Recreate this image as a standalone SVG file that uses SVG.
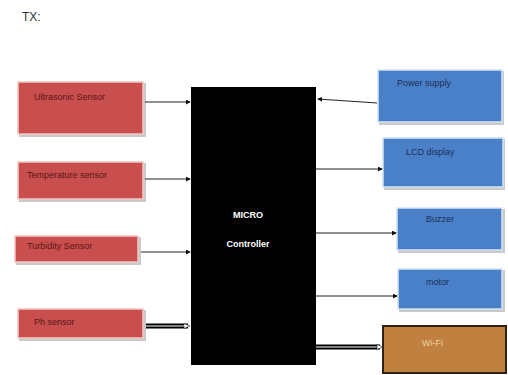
<svg xmlns="http://www.w3.org/2000/svg" width="508" height="375" viewBox="0 0 508 375">
<style>
.red{fill:#c94f4e;stroke:#f3c6c4;stroke-width:1.5}
.blue{fill:#4a80c8;stroke:#d4e3f3;stroke-width:1.5}
.sh{fill:#c9c9c9}
.rt{font-family:"Liberation Sans",Arial,sans-serif;font-size:9px;fill:#5a1616}
.bt{font-family:"Liberation Sans",Arial,sans-serif;font-size:9px;fill:#1b2f5a}
.ln{stroke:#222;stroke-width:1;fill:none}
.thick{stroke:#000;stroke-width:5;fill:none}
.thin{stroke:#fff;stroke-width:1;fill:none}
</style>
<defs>
<marker id="dot" viewBox="0 0 6 6" refX="5" refY="3" markerWidth="5" markerHeight="5" orient="auto" markerUnits="userSpaceOnUse">
<path d="M0,0 L6,3 L0,6 z" fill="#111"/>
</marker>
</defs>
<rect width="508" height="375" fill="#fff"/>
<text x="22" y="21" font-family="Liberation Sans,Arial,sans-serif" font-size="12" fill="#333">TX:</text>

<g id="ultrasonic">
<rect class="sh" x="19" y="83" width="127" height="54"/>
<rect class="red" x="18" y="82" width="125" height="52"/>
<text class="rt" x="34" y="100">Ultrasonic Sensor</text>
</g>
<g id="temperature">
<rect class="sh" x="19" y="163" width="127" height="39"/>
<rect class="red" x="18" y="162" width="125" height="37"/>
<text class="rt" x="27" y="178">Temperature sensor</text>
</g>
<g id="turbidity">
<rect class="sh" x="16" y="237" width="125" height="28"/>
<rect class="red" x="15" y="236" width="123" height="26"/>
<text class="rt" x="27" y="249">Turbidity Sensor</text>
</g>
<g id="ph">
<rect class="sh" x="19" y="310" width="127" height="31"/>
<rect class="red" x="18" y="309" width="125" height="29"/>
<text class="rt" x="34" y="325">Ph sensor</text>
</g>

<g id="controller">
<rect x="191" y="87" width="125" height="278" fill="#000"/>
<text x="248" y="218" text-anchor="middle" font-family="Liberation Sans,Arial,sans-serif" font-size="9" font-weight="bold" fill="#fff">MICRO</text>
<text x="248" y="247" text-anchor="middle" font-family="Liberation Sans,Arial,sans-serif" font-size="9" font-weight="bold" fill="#fff">Controller</text>
</g>

<g id="power">
<rect class="sh" x="379" y="71" width="125" height="54"/>
<rect class="blue" x="378" y="70" width="124" height="52"/>
<text class="bt" x="397" y="86">Power supply</text>
</g>
<g id="lcd">
<rect class="sh" x="384" y="139" width="121" height="51"/>
<rect class="blue" x="383" y="138" width="120" height="49"/>
<text class="bt" x="406" y="155">LCD display</text>
</g>
<g id="buzzer">
<rect class="sh" x="398" y="209" width="107" height="44"/>
<rect class="blue" x="397" y="208" width="105" height="42"/>
<text class="bt" x="426" y="222">Buzzer</text>
</g>
<g id="motor">
<rect class="sh" x="399" y="270" width="106" height="42"/>
<rect class="blue" x="398" y="269" width="104" height="40"/>
<text class="bt" x="426" y="285">motor</text>
</g>
<g id="wifi">
<rect x="383" y="326" width="123" height="47" fill="#bf8040" stroke="#2e2214" stroke-width="2"/>
<text x="422" y="346" font-family="Liberation Sans,Arial,sans-serif" font-size="9" fill="#f2d2a4">Wi-Fi</text>
</g>

<g id="connectors">
<line class="ln" x1="145" y1="102" x2="190" y2="102" marker-end="url(#dot)"/>
<line class="ln" x1="145" y1="179" x2="190" y2="179" marker-end="url(#dot)"/>
<line class="ln" x1="141" y1="252" x2="190" y2="252" marker-end="url(#dot)"/>
<line class="thick" x1="146" y1="326" x2="188" y2="326"/>
<line class="thin" x1="146" y1="326" x2="184" y2="326"/>
<path d="M184,323.5 L190,326 L184,328.5 z" fill="#fff" stroke="#000" stroke-width="0.5"/>
<line class="ln" x1="377" y1="103" x2="318" y2="99" marker-end="url(#dot)"/>
<line class="ln" x1="316" y1="169" x2="382" y2="169" marker-end="url(#dot)"/>
<line class="ln" x1="316" y1="233" x2="396" y2="233" marker-end="url(#dot)"/>
<line class="ln" x1="316" y1="296" x2="397" y2="296" marker-end="url(#dot)"/>
<line class="thick" x1="316" y1="347" x2="380" y2="347"/>
<line class="thin" x1="316" y1="347" x2="377" y2="347"/>
<path d="M377,344.5 L383,347 L377,349.5 z" fill="#fff" stroke="#000" stroke-width="0.5"/>
</g>
</svg>
